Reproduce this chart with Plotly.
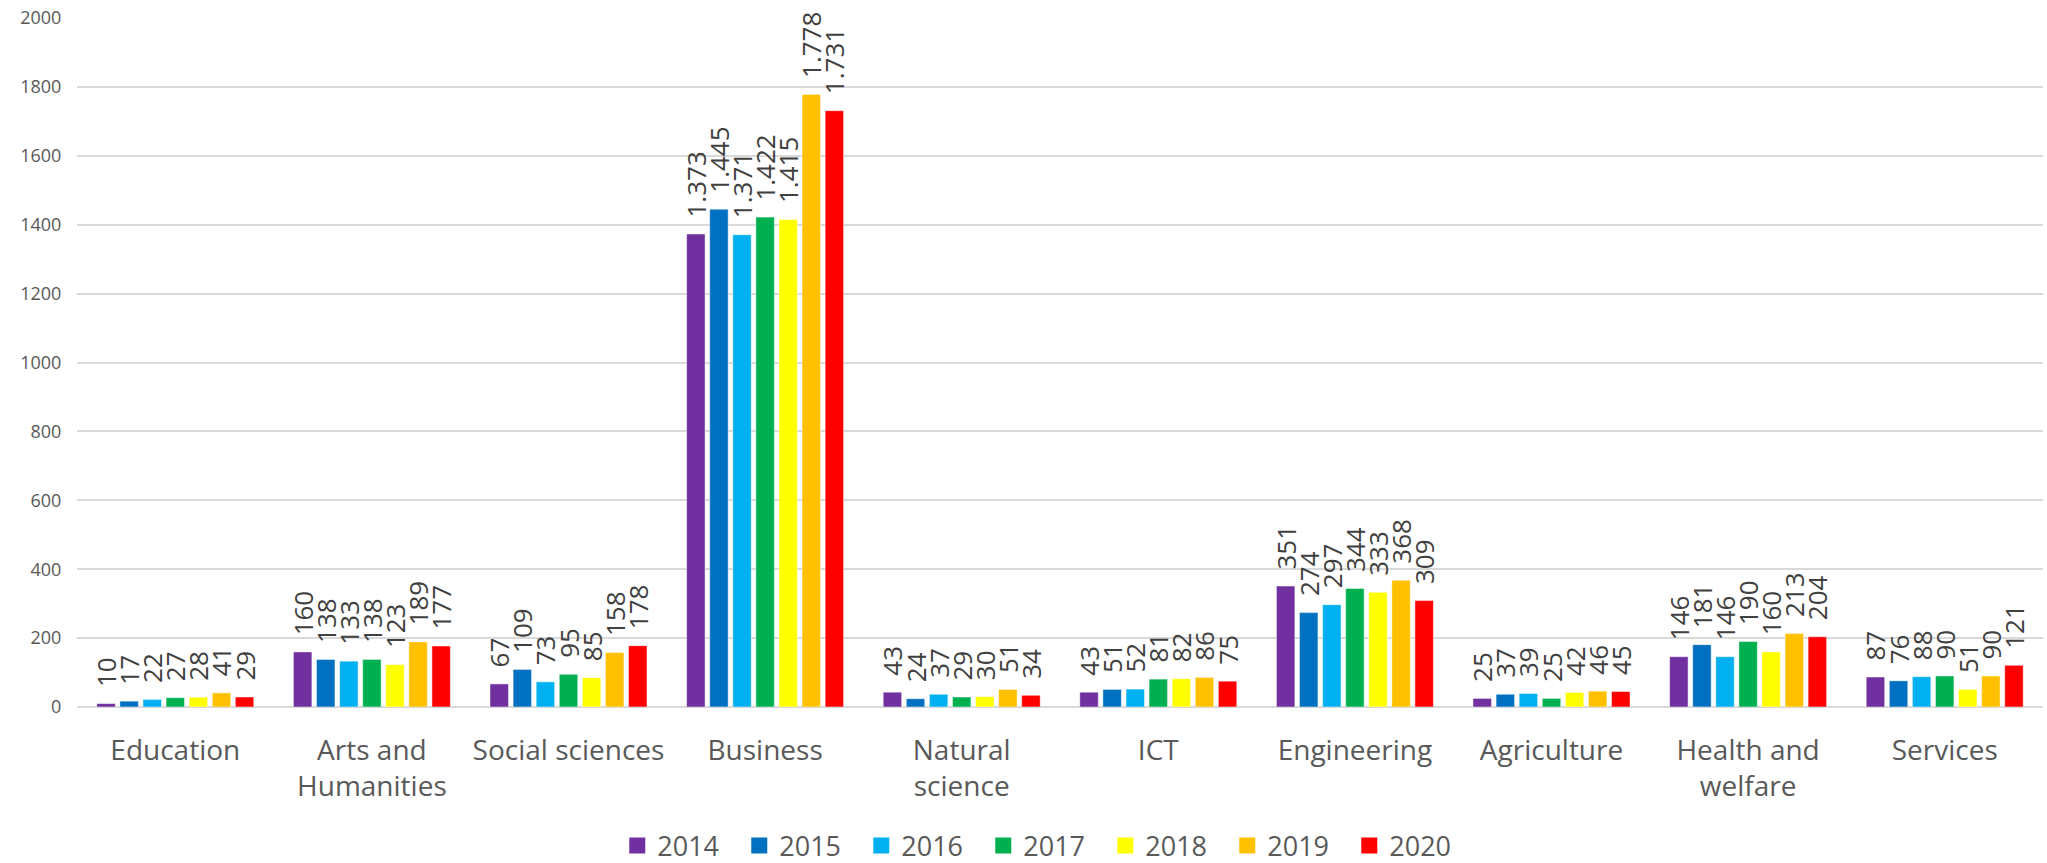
import plotly.graph_objects as go

categories = ["Education", "Arts and<br>Humanities", "Social sciences", "Business",
              "Natural<br>science", "ICT", "Engineering", "Agriculture",
              "Health and<br>welfare", "Services"]
years = ["2014", "2015", "2016", "2017", "2018", "2019", "2020"]
colors = ["#7030A0", "#0070C0", "#00B0F0", "#00B050", "#FFFF00", "#FFC000", "#FF0000"]

v2014 = [10, 160, 67, 1373, 43, 43, 351, 25, 146, 87]
v2015 = [17, 138, 109, 1445, 24, 51, 274, 37, 181, 76]
v2016 = [22, 133, 73, 1371, 37, 52, 297, 39, 146, 88]
v2017 = [27, 138, 95, 1422, 29, 81, 344, 25, 190, 90]
v2018 = [28, 123, 85, 1415, 30, 82, 333, 42, 160, 51]
v2019 = [41, 189, 158, 1778, 51, 86, 368, 46, 213, 90]
v2020 = [29, 177, 178, 1731, 34, 75, 309, 45, 204, 121]
series = [v2014, v2015, v2016, v2017, v2018, v2019, v2020]

FONT = "Open Sans"

def fmt(v):
    return "\u00a0\u00a0" + f"{v:,}".replace(",", ".")

fig = go.Figure()
for name, vals, col in zip(years, series, colors):
    fig.add_trace(go.Bar(
        x=categories, y=vals, name=name, showlegend=False,
        marker=dict(color=col, line=dict(width=0.8, color="rgba(255,255,255,0.6)")),
        text=[fmt(v) for v in vals], textposition="outside", textangle=-90,
        constraintext="none", cliponaxis=False,
        textfont=dict(family=FONT, size=26, color="#404040"),
    ))
for name, col in zip(years, colors):
    fig.add_trace(go.Scatter(
        x=[None], y=[None], mode="markers", name=name,
        marker=dict(symbol="square", size=16, color=col),
    ))

fig.update_layout(
    width=2047, height=863,
    margin=dict(l=77, r=4, t=18, b=156, autoexpand=False),
    paper_bgcolor="white", plot_bgcolor="white",
    barmode="group", bargap=0.178, bargroupgap=0.2,
    font=dict(family=FONT, color="#595959"),
    showlegend=True,
    legend=dict(orientation="h", x=0.492, xanchor="center", y=-0.2017, yanchor="middle",
                font=dict(family=FONT, size=27, color="#595959"),
                entrywidth=77, entrywidthmode="pixels"),
)
fig.update_xaxes(showgrid=False, showline=False, zeroline=False,
                 ticks="outside", ticklen=18, tickcolor="rgba(0,0,0,0)",
                 tickfont=dict(family=FONT, size=28, color="#595959"))
fig.update_yaxes(range=[0, 2000], dtick=200, showgrid=True, gridcolor="#D9D9D9", gridwidth=1.5,
                 zeroline=True, zerolinecolor="#D9D9D9", zerolinewidth=1.5, showline=False,
                 ticks="outside", ticklen=11, tickcolor="rgba(0,0,0,0)",
                 tickfont=dict(family=FONT, size=18, color="#595959"))

fig.write_html("out.html", config={"displayModeBar": False},
               post_script="document.body.style.margin='0';document.body.style.overflow='hidden';")
